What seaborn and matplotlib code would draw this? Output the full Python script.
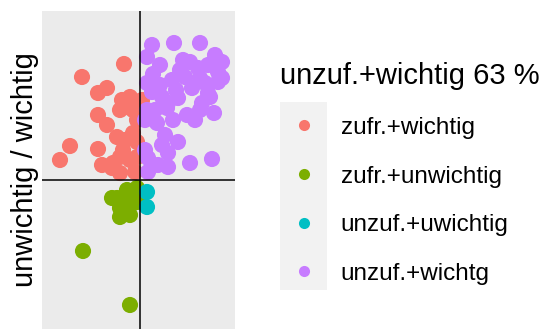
import matplotlib
matplotlib.use("Agg")
import matplotlib.pyplot as plt
from matplotlib.lines import Line2D
from matplotlib.patches import Rectangle
import pandas as pd
import seaborn as sns

# categories / colours (ggplot hues)
groups = ["zufr.+wichtig", "zufr.+unwichtig", "unzuf.+uwichtig", "unzuf.+wichtg"]
colors = ["#F8766D", "#7CAE00", "#00BFC4", "#C77CFF"]
legend_title = "unzuf.+wichtig 63 %"
y_label = "unwichtig / wichtig"

# zufr.+wichtig
red_x = [-1.6, -5.8, -4.2, -3.3, -1.8, -1.0, 0.2, -1.3, -0.7, -2.0, -4.2, -3.3, -2.3, -1.5,
         -0.7, -0.3, -7.0, -8.0, -4.2, -1.7, -1.0, -3.8, -2.8, -2.0, -0.3, -0.5, -2.0, -2.7, -0.3]
red_y = [11.6, 10.3, 8.7, 9.2, 8.0, 8.3, 8.0, 7.3, 7.0, 7.0, 6.5, 5.5, 4.3, 4.0,
         4.7, 3.8, 3.4, 2.0, 3.1, 3.0, 2.0, 1.5, 1.2, 2.3, 2.3, 0.8, 0.7, 1.7, 6.0]

# zufr.+unwichtig
green_x = [-2.3, -1.3, -0.3, -2.0, -1.0, -0.3, -2.0, -1.0, -5.7, -1.0, 0.0, -2.8]
green_y = [-1.8, -1.0, -0.8, -2.8, -2.3, -2.2, -3.7, -3.5, -7.1, -12.5, -1.5, -1.8]

# unzuf.+uwichtig
cyan_x = [0.7, 0.7]
cyan_y = [-1.2, -2.7]

# unzuf.+wichtg
purple_x = [1.2, 3.4, 6.0, 7.5, 7.8, 5.0, 4.3, 2.0, 0.7, 3.2, 6.5, 7.8, 2.2, 3.8, 6.2, 4.5,
            5.2, 0.7, 6.0, 6.8, 0.7, 2.7, 4.7, 7.4, 6.0, 1.7, 3.3, 5.5, 0.5, 2.5, 3.8, 2.2,
            0.5, 2.8, 0.8, 2.8, 5.0, 7.2, 1.8, 0.8, 1.5, 2.8, 7.0, 2.0, 8.2, 8.2,
            4.0, 5.8, 1.3, 3.6, 6.8, 1.2]
purple_y = [13.5, 13.7, 13.7, 12.5, 10.8, 11.8, 12.0, 11.5, 12.3, 10.0, 9.7, 9.8, 8.3, 8.2,
            7.7, 10.3, 9.2, 9.7, 10.2, 8.7, 7.0, 7.2, 6.5, 6.7, 7.0, 5.7, 6.0, 6.0, 6.0, 4.5,
            3.8, 3.5, 3.0, 2.7, 2.2, 1.3, 1.7, 2.1, 1.5, 0.8, 7.0, 7.7, 8.3, 9.5, 11.8, 10.2,
            11.0, 11.2, 10.6, 9.0, 11.5, 8.8]

parts = []
for g, xs, ys in zip(groups, [red_x, green_x, cyan_x, purple_x], [red_y, green_y, cyan_y, purple_y]):
    parts.append(pd.DataFrame({"x": xs, "y": ys, "gruppe": g}))
df = pd.concat(parts, ignore_index=True)

plt.rcParams["font.family"] = ["Liberation Sans", "DejaVu Sans"]

fig = plt.figure(figsize=(5.48, 3.29), dpi=100)
ax = fig.add_axes([42 / 548, 0, 193 / 548, 318 / 329])
ax.set_facecolor("#EBEBEB")

sns.scatterplot(data=df, x="x", y="y", hue="gruppe", hue_order=groups, palette=colors,
                s=135, linewidth=0, legend=False, ax=ax, zorder=2)

ax.axhline(0, color="black", lw=1.1, zorder=3)
ax.axvline(0, color="black", lw=1.1, zorder=3)

ax.set_xlim(-9.8, 9.5)
ax.set_ylim(-14.9, 16.9)
ax.set_xticks([])
ax.set_yticks([])
ax.set_xlabel("")
ax.set_ylabel(y_label, fontsize=21, color="black")
ax.yaxis.set_label_coords(-0.015, 0.5)
for s in ax.spines.values():
    s.set_visible(False)

# legend
handles = [Line2D([], [], marker="o", linestyle="none", markersize=8,
                  markerfacecolor=c, markeredgewidth=0) for c in colors]
leg = ax.legend(handles, groups, title=legend_title, loc="upper left",
                bbox_to_anchor=(280 / 548, 1 - 62 / 329), bbox_transform=fig.transFigure,
                frameon=False, fontsize=17.5, title_fontsize=21, alignment="left",
                borderpad=0, borderaxespad=0, handlelength=1.95, handletextpad=0.55,
                labelspacing=1.1)
fig.patches.append(Rectangle((280 / 548, 1 - 290 / 329), 47 / 548, 188 / 329,
                             transform=fig.transFigure, facecolor="#F2F2F2",
                             edgecolor="none", zorder=-1))

fig.savefig("out.png", dpi=100)
